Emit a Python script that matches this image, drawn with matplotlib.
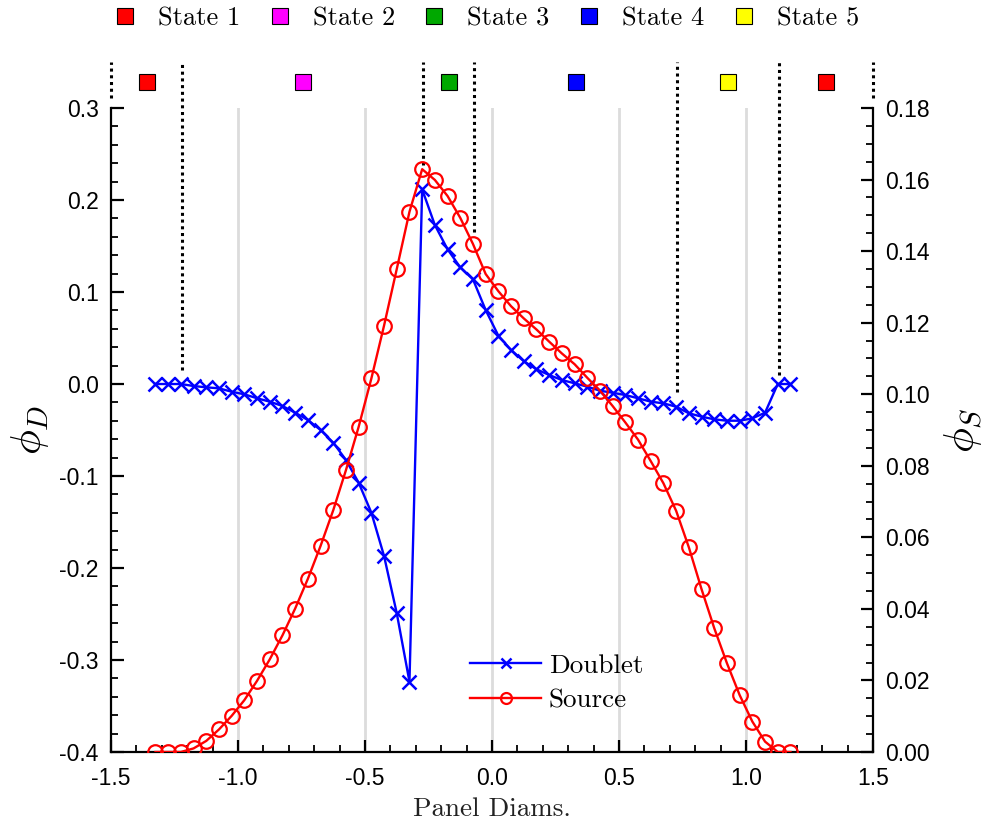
import matplotlib
matplotlib.use("Agg")
import matplotlib.pyplot as plt
from matplotlib.lines import Line2D
from matplotlib.ticker import MultipleLocator, FormatStrFormatter

plt.rcParams['mathtext.fontset'] = 'cm'
plt.rcParams['axes.unicode_minus'] = False
plt.rcParams['font.family'] = ['Liberation Sans', 'DejaVu Sans']

# ---------------- data ----------------
x_start = -1.325
x_step = 0.05
n_pts = 51
panel_x = [round(x_start + x_step * k, 4) for k in range(n_pts)]

doublet = [0.0, 0.0, 0.0, -0.0022, -0.0036, -0.0047, -0.0084, -0.0112, -0.0155, -0.0192,
           -0.0239, -0.0312, -0.0391, -0.0500, -0.0638, -0.0826, -0.1073, -0.1399, -0.1870, -0.2492,
           -0.3236, 0.2116, 0.1728, 0.1464, 0.1268, 0.1138, 0.0804, 0.0525, 0.0370, 0.0248,
           0.0160, 0.0098, 0.0043, 0.0008, -0.0029, -0.0073, -0.0095, -0.0120, -0.0155, -0.0192,
           -0.0210, -0.0247, -0.0318, -0.0355, -0.0384, -0.0399, -0.0399, -0.0373, -0.0312, 0.0,
           0.0]

source = [0.0, 0.0, 0.0, 0.0010, 0.0031, 0.0063, 0.0101, 0.0145, 0.0199, 0.0259,
          0.0326, 0.0401, 0.0484, 0.0576, 0.0676, 0.0788, 0.0909, 0.1044, 0.1192, 0.1350,
          0.1510, 0.1629, 0.1599, 0.1554, 0.1493, 0.1420, 0.1336, 0.1288, 0.1246, 0.1212,
          0.1181, 0.1147, 0.1114, 0.1084, 0.1046, 0.1010, 0.0967, 0.0921, 0.0873, 0.0813,
          0.0751, 0.0674, 0.0572, 0.0455, 0.0346, 0.0248, 0.0159, 0.0085, 0.0029, 0.0,
          0.0]

state_bounds = [-1.5, -1.22, -0.27, -0.07, 0.73, 1.13, 1.5]
state_bound_ends = [0.311, 0.015, 0.238, 0.165, -0.009, 0.010, 0.311]
state_region_ids = [1, 2, 3, 4, 5, 1]
state_names = ["State 1", "State 2", "State 3", "State 4", "State 5"]
state_colors = ["#ff0000", "#ff00ff", "#00a800", "#0000ff", "#ffff00"]

xticks = [-1.5, -1.0, -0.5, 0.0, 0.5, 1.0, 1.5]

# ---------------- figure ----------------
fig = plt.figure(figsize=(9.86, 8.24), dpi=100)
ax = fig.add_axes([0.1126, 0.0874, 0.7728, 0.7815])
ax2 = ax.twinx()

tick_fs = 16.5
serif = 'cmr10'

ax.set_xlim(-1.5, 1.5)
ax.set_ylim(-0.4, 0.3)
ax2.set_ylim(0.0, 0.18)

# grid
for gx in xticks[1:-1]:
    ax.axvline(gx, color='#dcdcdc', lw=2.0, zorder=0)

ld, = ax.plot(panel_x, doublet, color='#0000ff', lw=1.7, marker='x', ms=10, mew=1.8,
              label='Doublet', zorder=3)
ls, = ax2.plot(panel_x, source, color='#ff0000', lw=1.7, marker='o', ms=10.5, mew=1.6,
               mfc='none', label='Source', zorder=3)

# state boundaries and region markers
y_top = 0.35
for bx, be in zip(state_bounds, state_bound_ends):
    ax.plot([bx, bx], [be, y_top], color='black', ls=(0, (1, 1.2)), lw=2.2,
            clip_on=False, zorder=4)
for i, sid in enumerate(state_region_ids):
    cx = 0.5 * (state_bounds[i] + state_bounds[i + 1])
    ax.plot([cx], [0.3283], marker='s', ms=11.5, mfc=state_colors[sid - 1], mec='black',
            mew=0.8, clip_on=False, zorder=5)

# spines and ticks
for a in (ax, ax2):
    a.spines['top'].set_visible(False)
    for s in ('left', 'right', 'bottom'):
        a.spines[s].set_linewidth(1.6)
ax.spines['right'].set_visible(False)
ax2.spines['left'].set_visible(False)
ax2.spines['bottom'].set_visible(False)

ax.set_xticks(xticks)
ax.xaxis.set_minor_locator(MultipleLocator(0.1))
ax.yaxis.set_major_locator(MultipleLocator(0.1))
ax.yaxis.set_minor_locator(MultipleLocator(0.02))
ax.xaxis.set_major_formatter(FormatStrFormatter('%.1f'))
ax.yaxis.set_major_formatter(FormatStrFormatter('%.1f'))
ax2.yaxis.set_major_locator(MultipleLocator(0.02))
ax2.yaxis.set_minor_locator(MultipleLocator(0.005))
ax2.yaxis.set_major_formatter(FormatStrFormatter('%.2f'))

ax.tick_params(axis='both', which='major', direction='in', length=9, width=1.6,
               labelsize=tick_fs, top=False, right=False, colors='black')
ax.tick_params(axis='both', which='minor', direction='in', length=5, width=1.3,
               top=False, right=False)
ax.tick_params(axis='y', which='major', pad=9)
ax.tick_params(axis='x', which='major', pad=11)
ax2.tick_params(axis='y', which='major', direction='in', length=9, width=1.6,
                labelsize=tick_fs, pad=9)
ax2.tick_params(axis='y', which='minor', direction='in', length=5, width=1.3)

ax.set_xlabel('Panel Diams.', fontfamily=serif, fontsize=19.5, color='#222222')
ax.xaxis.set_label_coords(0.5, -0.07)
ax.set_ylabel(r'$\phi_D$', fontsize=30, rotation=90)
ax.yaxis.set_label_coords(-0.079, 0.5)
ax2.set_ylabel(r'$\phi_S$', fontsize=30, rotation=90)
ax2.yaxis.set_label_coords(1.091, 0.5)

# series legend
lg = ax2.legend(handles=[ld, ls], loc='center', bbox_to_anchor=(0.585, 0.107),
                frameon=False, prop={'family': serif, 'size': 19.5},
                handlelength=2.6, handletextpad=0.3, labelspacing=0.4, markerscale=0.75)

# state legend
state_handles = [Line2D([], [], ls='none', marker='s', ms=11, mfc=c, mec='black', mew=0.8)
                 for c in state_colors]
fig.legend(handles=state_handles, labels=state_names, loc='upper center',
           bbox_to_anchor=(0.495, 1.005), ncol=5, frameon=False,
           prop={'family': serif, 'size': 19}, handlelength=0.6, handletextpad=0.95,
           columnspacing=1.2, borderaxespad=0.0)

fig.savefig('out.png', dpi=100)
